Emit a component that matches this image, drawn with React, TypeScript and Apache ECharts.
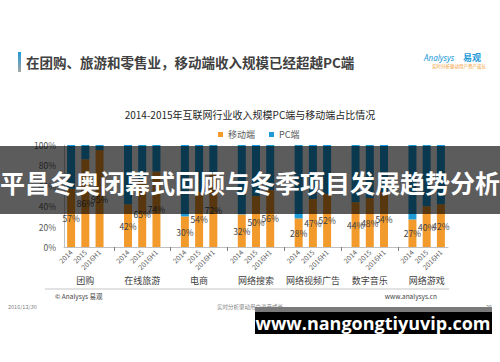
import React, { useEffect, useRef } from "react";
import * as echarts from "echarts";

const groups = ["团购", "在线旅游", "电商", "网络搜索", "网络视频广告", "数字音乐", "网络游戏"];
const periods = ["2014", "2015", "2016H1"];
const mobileShare = [
  [57, 86, 95],
  [42, 65, 74],
  [30, 54, 72],
  [32, 50, 56],
  [28, 47, 52],
  [44, 48, 54],
  [27, 40, 42],
];
const yTicks = [0, 20, 40, 60, 80, 100];
const legendNames = ["移动端", "PC端"];
const chartTitle = "2014-2015年互联网行业收入规模PC端与移动端占比情况";
const slideTitle = "在团购、旅游和零售业，移动端收入规模已经超越PC端";
const bannerText = "平昌冬奥闭幕式回顾与冬季项目发展趋势分析";
const siteText = "www.nangongtiyuvip.com";

const FONT = "'Noto Sans CJK SC', 'Noto Sans', sans-serif";

export default function App() {
  const ref = useRef<HTMLDivElement>(null);
  useEffect(() => {
    if (!ref.current) return;
    const chart = echarts.init(ref.current, null, { renderer: "svg" });

    const slotLabels: string[] = [];
    const groupLabels: string[] = [];
    const mobileData: (number | null)[] = [];
    const pcData: (number | null)[] = [];
    groups.forEach((g, gi) => {
      periods.forEach((p, pi) => {
        slotLabels.push(p);
        groupLabels.push(pi === 1 ? g : "");
        mobileData.push(mobileShare[gi][pi]);
        pcData.push(100 - mobileShare[gi][pi]);
      });
      if (gi < groups.length - 1) {
        slotLabels.push("");
        groupLabels.push("");
        mobileData.push(null);
        pcData.push(null);
      }
    });

    chart.setOption({
      animation: false,
      textStyle: { fontFamily: FONT },
      title: {
        text: chartTitle,
        left: "center",
        top: 104,
        textStyle: { fontSize: 10, fontWeight: "normal", color: "#262626", fontFamily: FONT },
      },
      legend: {
        data: legendNames,
        top: 125,
        left: 213,
        icon: "rect",
        itemWidth: 5,
        itemHeight: 5,
        itemGap: 14,
        textStyle: { fontSize: 9, color: "#595959", fontFamily: FONT },
      },
      grid: { left: 64, right: 52, top: 145, bottom: 115 },
      xAxis: [
        {
          type: "category",
          data: slotLabels,
          axisLine: { lineStyle: { color: "#bfbfbf" } },
          axisTick: {
            show: true,
            alignWithLabel: true,
            length: 4,
            interval: (i: number) => i % 4 === 3,
            lineStyle: { color: "#7f7f7f" },
          },
          axisLabel: { rotate: 45, fontSize: 7, color: "#595959", interval: 0, margin: 4 },
        },
        {
          type: "category",
          data: groupLabels,
          position: "bottom",
          axisLine: { show: false },
          axisTick: { show: false },
          axisLabel: { interval: 0, fontSize: 9, color: "#404040", margin: 29 },
        },
      ],
      yAxis: {
        type: "value",
        min: 0,
        max: 100,
        interval: 20,
        axisLine: { show: true, lineStyle: { color: "#bfbfbf" } },
        axisTick: { show: false },
        splitLine: { show: false },
        axisLabel: {
          fontSize: 8.5,
          color: "#595959",
          margin: 8,
          formatter: (v: number) => (yTicks.includes(v) ? v + "%" : ""),
        },
      },
      series: [
        {
          name: legendNames[0],
          type: "bar",
          stack: "share",
          barWidth: 8,
          data: mobileData,
          itemStyle: { color: "#F39A2C" },
          label: {
            show: true,
            position: "inside",
            formatter: "{c}%",
            fontSize: 8.5,
            color: "#404040",
          },
        },
        {
          name: legendNames[1],
          type: "bar",
          stack: "share",
          barWidth: 8,
          data: pcData,
          itemStyle: { color: "#1E9BD7" },
        },
      ],
      graphic: [
        {
          type: "rect",
          shape: { x: 18, y: 52, width: 3, height: 20 },
          style: {
            fill: new echarts.graphic.LinearGradient(0, 0, 0, 1, [
              { offset: 0, color: "#1E9BD7" },
              { offset: 1, color: "#a6a6a6" },
            ]),
          },
        },
        {
          type: "text",
          x: 26,
          y: 62,
          style: {
            text: slideTitle,
            fontSize: 13.5,
            fontWeight: "bold",
            fill: "#404040",
            fontFamily: FONT,
            verticalAlign: "middle",
          },
        },
        {
          type: "text",
          x: 424,
          y: 57,
          style: {
            text: "Analysys",
            fontSize: 8,
            fontStyle: "italic",
            fill: "#1E9BD7",
            fontFamily: "'Noto Sans', sans-serif",
            verticalAlign: "middle",
          },
        },
        {
          type: "text",
          x: 463,
          y: 57,
          style: {
            text: "易观",
            fontSize: 9,
            fontWeight: "bold",
            fill: "#1E9BD7",
            fontFamily: FONT,
            verticalAlign: "middle",
          },
        },
        {
          type: "text",
          x: 432,
          y: 66,
          style: {
            text: "实时分析驱动用户资产成长",
            fontSize: 4.5,
            fill: "#F39A2C",
            fontFamily: FONT,
            verticalAlign: "middle",
          },
        },
        {
          type: "line",
          shape: { x1: 45, y1: 289, x2: 449, y2: 289 },
          style: { stroke: "#d9d9d9", lineWidth: 1.5 },
        },
        {
          type: "text",
          x: 55,
          y: 296,
          style: { text: "© Analysys 易观", fontSize: 6.5, fill: "#404040", fontFamily: FONT, verticalAlign: "middle" },
        },
        {
          type: "text",
          x: 437,
          y: 296,
          style: { text: "www.analysys.cn", fontSize: 6.5, fill: "#404040", fontFamily: FONT, align: "right", verticalAlign: "middle" },
        },
        {
          type: "text",
          x: 8,
          y: 307,
          style: { text: "2016/12/30", fontSize: 5.5, fill: "#7f7f7f", fontFamily: FONT, verticalAlign: "middle" },
        },
        {
          type: "text",
          x: 250,
          y: 307,
          style: { text: "实时分析驱动用户资产成长", fontSize: 5.5, fill: "#7f7f7f", fontFamily: FONT, align: "center", verticalAlign: "middle" },
        },
        {
          type: "text",
          x: 492,
          y: 307,
          style: { text: "25", fontSize: 5.5, fill: "#7f7f7f", fontFamily: FONT, align: "right", verticalAlign: "middle" },
        },
        {
          type: "rect",
          z: 100,
          shape: { x: 0, y: 146, width: 500, height: 68 },
          style: { fill: "rgba(0,0,0,0.64)" },
        },
        {
          type: "text",
          z: 101,
          x: 250,
          y: 182,
          style: {
            text: bannerText,
            fontSize: 25,
            fontWeight: "bold",
            fill: "#ffffff",
            fontFamily: FONT,
            align: "center",
            verticalAlign: "middle",
          },
        },
        {
          type: "rect",
          z: 100,
          shape: { x: 255, y: 307, width: 237, height: 27 },
          style: { fill: "#000000" },
        },
        {
          type: "rect",
          z: 101,
          shape: { x: 255, y: 307, width: 237, height: 5 },
          style: { fill: "#7a7a7a" },
        },
        {
          type: "text",
          z: 102,
          x: 373,
          y: 323,
          style: {
            text: siteText,
            fontSize: 18,
            fontWeight: "bold",
            fill: "#ffffff",
            fontFamily: "'Open Sans', sans-serif",
            align: "center",
            verticalAlign: "middle",
          },
        },
      ],
    });
    return () => chart.dispose();
  }, []);
  return (
    <div
      ref={ref}
      style={{ position: "fixed", left: 0, top: 0, width: 500, height: 362, background: "#ffffff" }}
    />
  );
}
